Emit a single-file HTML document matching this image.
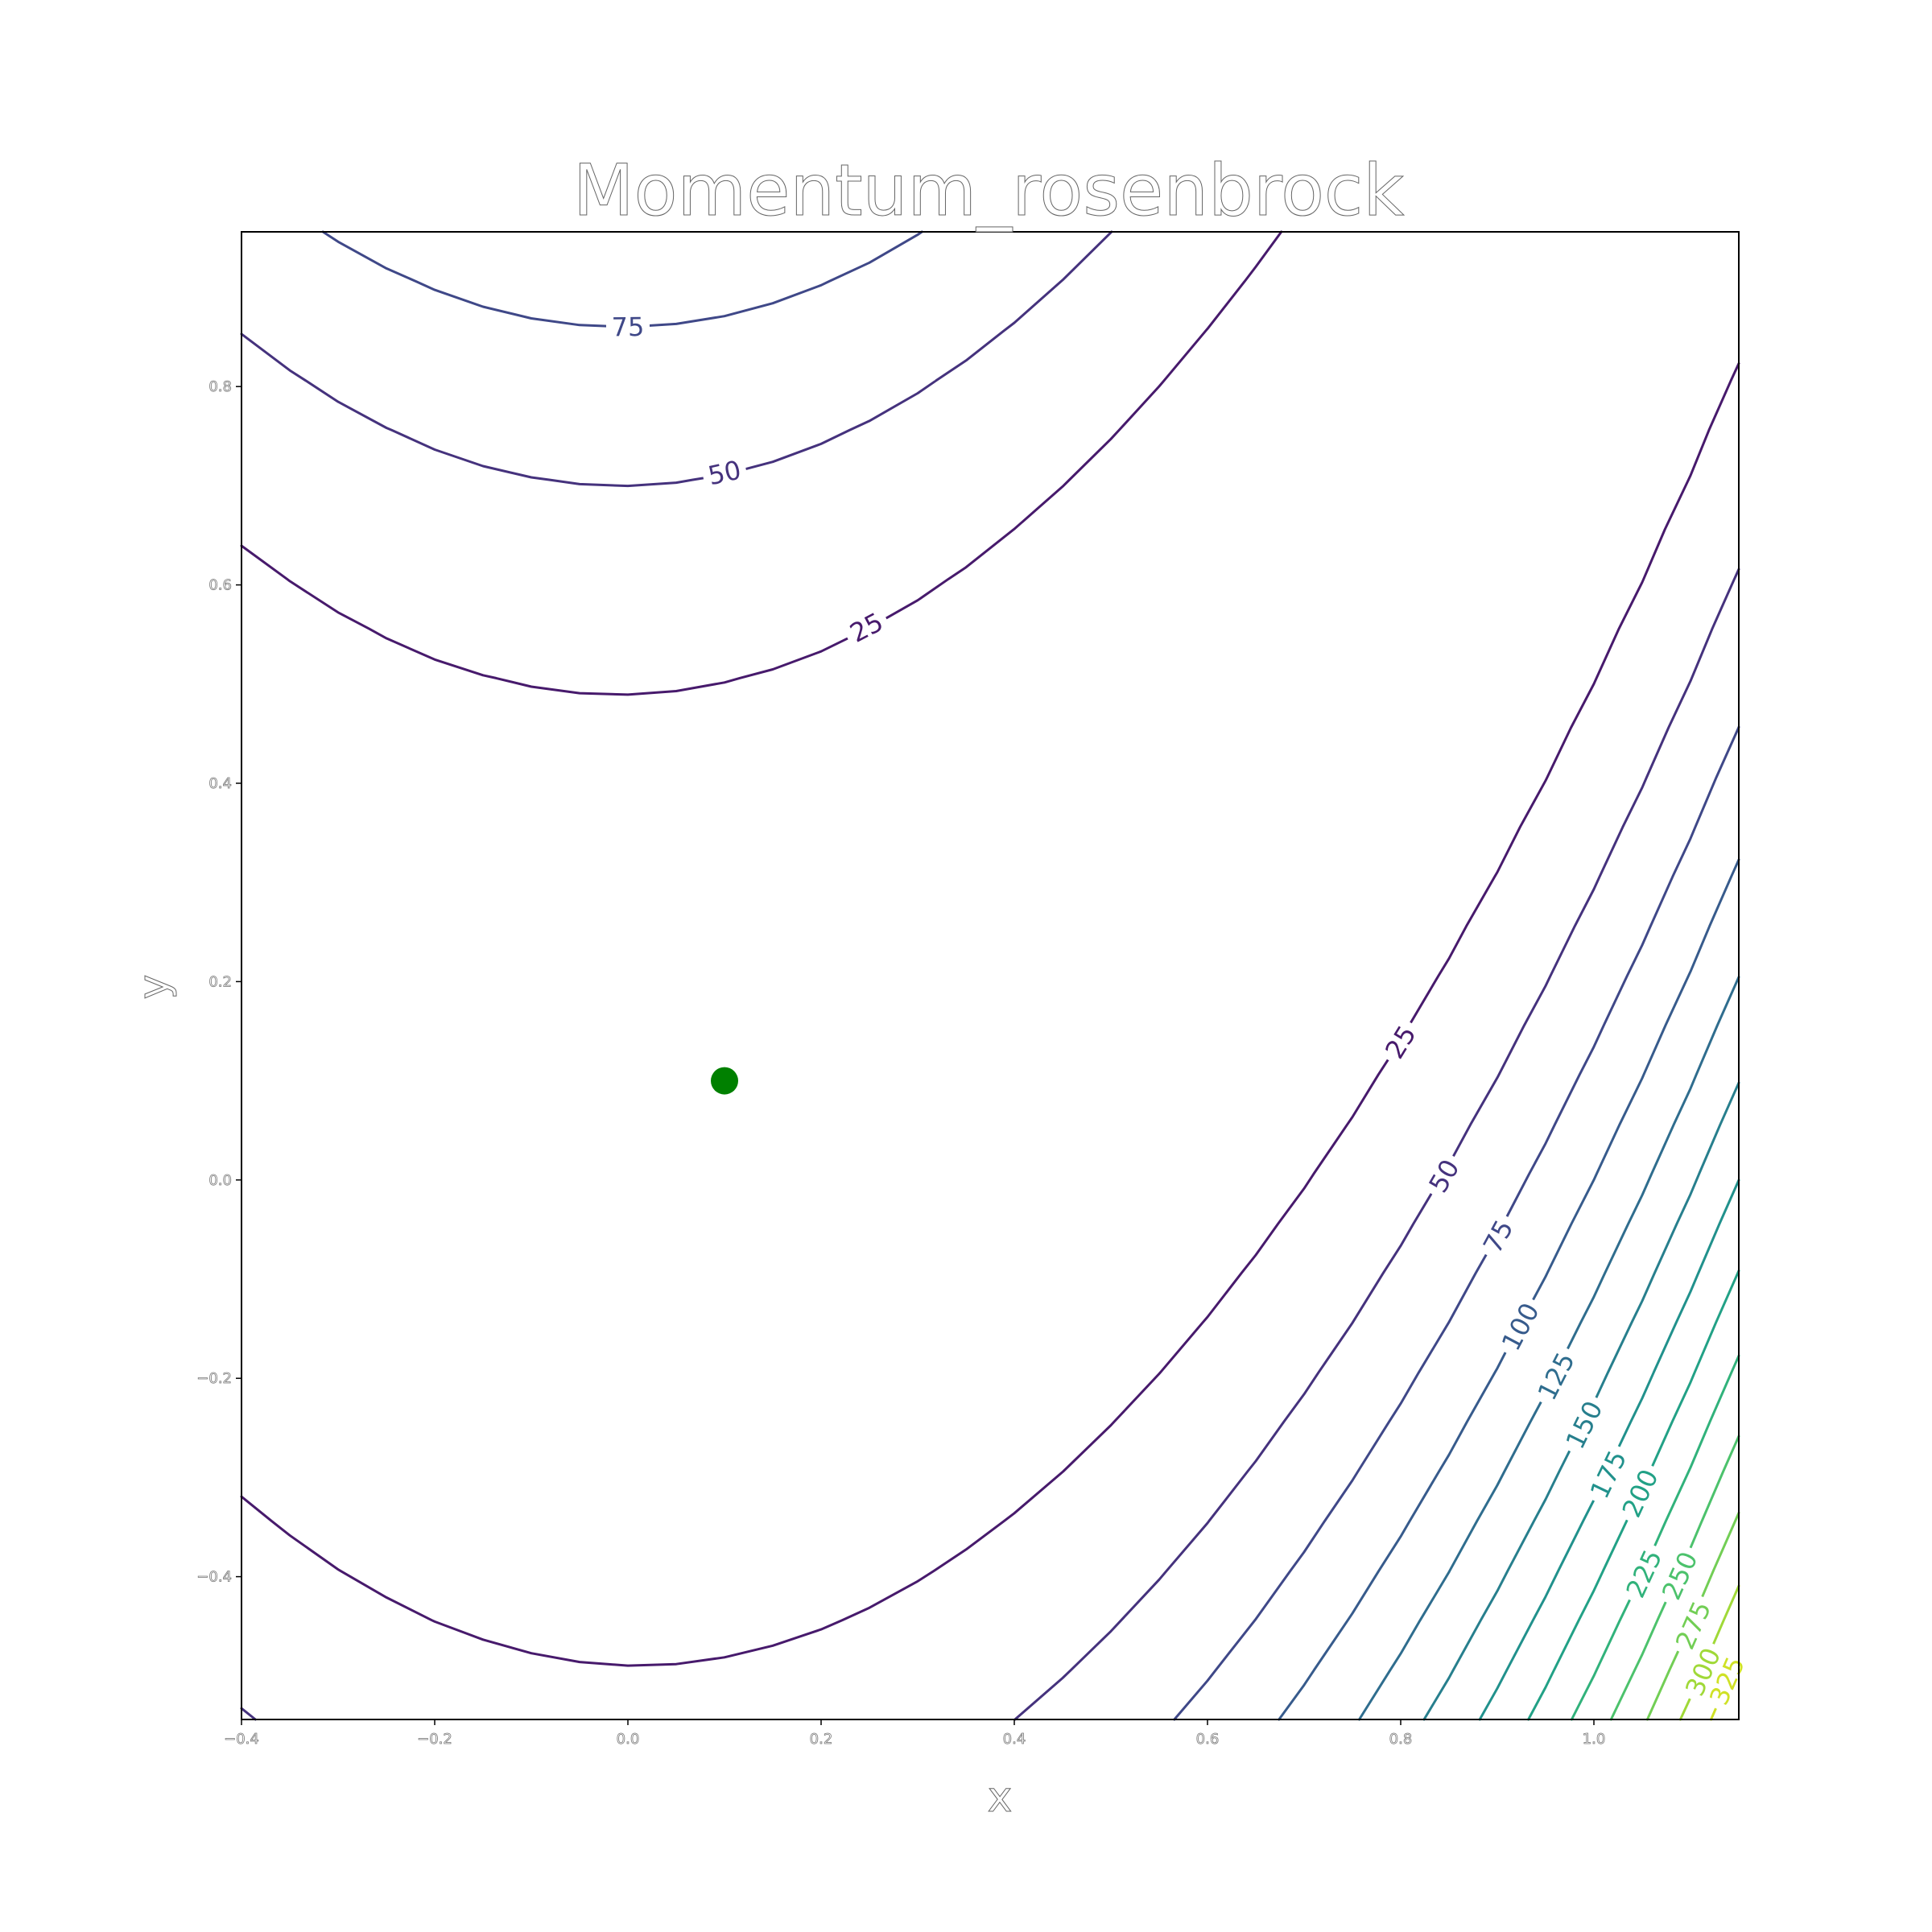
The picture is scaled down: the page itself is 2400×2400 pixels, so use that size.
<!DOCTYPE html>
<html><head><meta charset="utf-8"><style>
html,body{margin:0;padding:0;background:#fff;}
svg{display:block;font-family:"DejaVu Sans","Liberation Sans",sans-serif;}
</style></head><body>
<svg id="chart" width="2400" height="2400" viewBox="0 0 2400 2400">
<rect width="2400" height="2400" fill="#fff"/>
<g id="lines"></g><g id="labels"></g><g id="marks"></g>
<rect x="300" y="288" width="1860" height="1848" fill="none" stroke="#000" stroke-width="2"/>
<g id="ticks"></g>
<text x="1228" y="267" text-anchor="middle" font-size="88" fill="#fff" stroke="#666" stroke-width="1">Momentum_rosenbrock</text>
<text x="1242" y="2250" text-anchor="middle" font-size="52" fill="#fff" stroke="#666" stroke-width="1">x</text>
<text x="0" y="0" transform="translate(208,1226) rotate(-90)" text-anchor="middle" font-size="52" fill="#fff" stroke="#666" stroke-width="1">y</text>
</svg>
<script>
const levels=[25,50,75,100,125,150,175,200,225,250,275,300,325];
const xTicks=[-0.4,-0.2,0.0,0.2,0.4,0.6,0.8,1.0];
const yTicks=[-0.4,-0.2,0.0,0.2,0.4,0.6,0.8];
const xDomain=[-0.4,1.15];
const yDomain=[-0.544,0.956];
const point=[0.1,0.1];
const rosenA=1, rosenB=100;
const labelLevels=[75,50,25,25,50,75,100,125,150,175,200,225,250,275,300,325];
const labelX=[0.0,0.1,0.247,0.80,0.845,0.901,0.924,0.961,0.99,1.015,1.048,1.052,1.089,1.103,1.113,1.138];
const labelY=[0.860,0.713,0.557,0.139,0.004,-0.057,-0.148,-0.198,-0.247,-0.297,-0.316,-0.397,-0.399,-0.449,-0.496,-0.505];

const L=300,R=2160,T=288,B=2136;
const sx=v=>L+(v-xDomain[0])/(xDomain[1]-xDomain[0])*(R-L);
const sy=v=>B-(v-yDomain[0])/(yDomain[1]-yDomain[0])*(B-T);
const f=(x,y)=>(rosenA-x)**2+rosenB*(y-x*x)**2;
const vir=["#440154","#482475","#414487","#355f8d","#2a788e","#21918c","#22a884","#44bf70","#7ad151","#bddf26","#fde725"];
function hex(h){return [1,3,5].map(i=>parseInt(h.substr(i,2),16));}
function color(v){const t=Math.max(0,Math.min(1,v/350))*10;const i=Math.min(9,Math.floor(t));const a=hex(vir[i]),b=hex(vir[i+1]);const u=t-i;return `rgb(${a.map((c,k)=>Math.round(c+(b[k]-c)*u)).join(',')})`;}
const NS="http://www.w3.org/2000/svg";
function mk(tag,attrs){const e=document.createElementNS(NS,tag);for(const k in attrs)e.setAttribute(k,attrs[k]);return e;}

const nx=32, ny=31;
const gx=[],gy=[];
for(let i=0;i<nx;i++)gx.push(xDomain[0]+(xDomain[1]-xDomain[0])*i/(nx-1));
for(let j=0;j<ny;j++)gy.push(yDomain[0]+(yDomain[1]-yDomain[0])*j/(ny-1));
const Z=gy.map(y=>gx.map(x=>f(x,y)));
const linesG=document.getElementById('lines');
levels.forEach(lv=>{
  let d="";
  for(let j=0;j<ny-1;j++)for(let i=0;i<nx-1;i++){
    const c=[[gx[i],gy[j],Z[j][i]],[gx[i+1],gy[j],Z[j][i+1]],[gx[i+1],gy[j+1],Z[j+1][i+1]],[gx[i],gy[j+1],Z[j+1][i]]];
    const pts=[];
    for(let k=0;k<4;k++){const p=c[k],q=c[(k+1)%4];
      if((p[2]-lv)*(q[2]-lv)<0){const u=(lv-p[2])/(q[2]-p[2]);pts.push([p[0]+(q[0]-p[0])*u,p[1]+(q[1]-p[1])*u]);}}
    for(let k=0;k+1<pts.length;k+=2)d+=`M${sx(pts[k][0]).toFixed(1)},${sy(pts[k][1]).toFixed(1)}L${sx(pts[k+1][0]).toFixed(1)},${sy(pts[k+1][1]).toFixed(1)}`;
  }
  const p=mk('path',{d:d,fill:'none',stroke:color(lv),'stroke-width':3,'stroke-linecap':'round'});
  
  
  linesG.appendChild(p);
});
const labG=document.getElementById('labels');
labelLevels.forEach((lv,k)=>{
  const x=labelX[k],y=labelY[k];
  const gxv=-2*(rosenA-x)-4*rosenB*x*(y-x*x), gyv=2*rosenB*(y-x*x);
  const px=gxv/(R-L)*(xDomain[1]-xDomain[0]), py=-gyv/(B-T)*(yDomain[1]-yDomain[0]);
  let ang=Math.atan2(px,-py)*180/Math.PI;
  if(ang>90)ang-=180; if(ang<-90)ang+=180;
  const cx=sx(x),cy=sy(y);
  const g=mk('g',{transform:`translate(${cx.toFixed(1)},${cy.toFixed(1)}) rotate(${ang.toFixed(1)})`});
  
  
  const w=String(lv).length*20+14;
  g.appendChild(mk('rect',{x:-w/2,y:-16,width:w,height:32,fill:'#fff'}));
  const t=mk('text',{x:0,y:11,'text-anchor':'middle','font-size':32,fill:color(lv)});
  t.textContent=String(lv);
  g.appendChild(t);
  labG.appendChild(g);
});
const dot=mk('circle',{cx:sx(point[0]),cy:sy(point[1]),r:17,fill:'#008000'});


document.getElementById('marks').appendChild(dot);
const tg=document.getElementById('ticks');
const fmt=v=>(v<0?'\u2212':'')+Math.abs(v).toFixed(1);
xTicks.forEach(v=>{
  const X=sx(v);
  const ln=mk('line',{x1:X,x2:X,y1:B,y2:B+7,stroke:'#000','stroke-width':1.5});
  
  
  tg.appendChild(ln);
  const t=mk('text',{x:X,y:B+30,'text-anchor':'middle','font-size':18,fill:'#fff',stroke:'#777','stroke-width':0.8});
  
  
  t.textContent=fmt(v);tg.appendChild(t);
});
yTicks.forEach(v=>{
  const Y=sy(v);
  const ln=mk('line',{x1:L-7,x2:L,y1:Y,y2:Y,stroke:'#000','stroke-width':1.5});
  
  
  tg.appendChild(ln);
  const t=mk('text',{x:L-12,y:Y+6,'text-anchor':'end','font-size':18,fill:'#fff',stroke:'#777','stroke-width':0.8});
  
  
  t.textContent=fmt(v);tg.appendChild(t);
});
</script>
</body></html>
